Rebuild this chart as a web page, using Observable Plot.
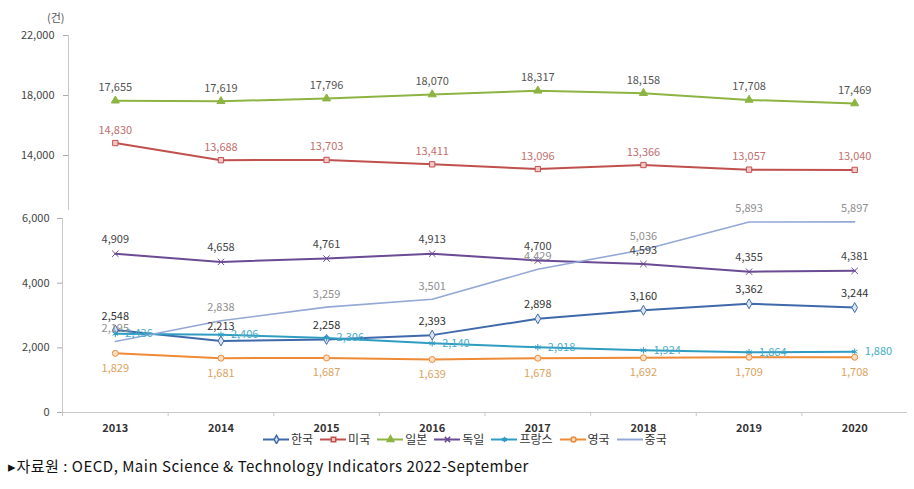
<!DOCTYPE html>
<html><head><meta charset="utf-8">
<script src="https://cdn.jsdelivr.net/npm/d3@7"></script>
<script src="https://cdn.jsdelivr.net/npm/@observablehq/plot@0.6"></script>
<style>
body{margin:0;background:#fff;}
#wrap{position:relative;width:914px;height:489px;overflow:hidden;font-family:"Noto Sans CJK KR","Noto Sans",sans-serif;}
#wrap svg.plotsvg{position:absolute;left:0;}
#unit{position:absolute;left:47px;top:9px;font-size:11px;color:#555;}
#legend{position:absolute;top:430px;left:263px;display:flex;gap:7px;font-size:12px;color:#333;align-items:center;white-space:nowrap;}
#legend .it{display:flex;align-items:center;gap:2px;}
#caption{position:absolute;left:8px;top:455px;font-size:15px;letter-spacing:0.5px;color:#111;white-space:nowrap;}
</style></head><body><div id="wrap"><div id="unit">(건)</div><div id="legend"></div><div id="caption"></div></div>
<script>
// ---- data ----
const years = [2013, 2014, 2015, 2016, 2017, 2018, 2019, 2020];
const seriesNames = ["한국", "미국", "일본", "독일", "프랑스", "영국", "중국"];
const korea   = [2548, 2213, 2258, 2393, 2898, 3160, 3362, 3244];
const usa     = [14830, 13688, 13703, 13411, 13096, 13366, 13057, 13040];
const japan   = [17655, 17619, 17796, 18070, 18317, 18158, 17708, 17469];
const germany = [4909, 4658, 4761, 4913, 4700, 4593, 4355, 4381];
const france  = [2436, 2406, 2306, 2140, 2018, 1924, 1864, 1880];
const uk      = [1829, 1681, 1687, 1639, 1678, 1692, 1709, 1708];
const china   = [2195, 2838, 3259, 3501, 4429, 5036, 5893, 5897];
const upperTicks = [14000, 18000, 22000];
const lowerTicks = [0, 2000, 4000, 6000];
const unitLabel = "(건)";
const captionText = "▸자료원 : OECD, Main Science & Technology Indicators 2022-September";

// ---- styles ----
const seriesValues = [korea, usa, japan, germany, france, uk, china];
const panelOf     = ["lower", "upper", "upper", "lower", "lower", "lower", "lower"];
const lineColors  = ["#3f69aa", "#c0504d", "#8db443", "#6a4b94", "#2f9dc2", "#ef8a36", "#94a8d6"];
const markFill    = ["#dbe5f3", "#f2c9c8", "#8db443", "none", "none", "#fbe0c8", "none"];
const markSymbol  = ["diamond", "square", "triangle", "times", "asterisk", "circle", null];
const labelColors = ["#333333", "#c0706e", "#555555", "#444444", "#45acc8", "#dba35e", "#8f8f8f"];
const labelDx     = [0, 0, 0, 0, 10, 0, 0];
const labelDy     = [-14, -13, -13, -14, 0, 15, -13];
const labelAnchor = ["middle", "middle", "middle", "middle", "start", "middle", "middle"];

const fmt = d3.format(",");
const fontFamily = '"Noto Sans CJK KR", "Noto Sans", sans-serif';

const series = seriesNames.map((name, i) => ({
  name, i,
  rows: years.map((year, j) => ({year, value: seriesValues[i][j], name}))
}));

function seriesMarks(panel) {
  const marks = [];
  for (const s of series.filter(s => panelOf[s.i] === panel)) {
    marks.push(Plot.line(s.rows, {x: "year", y: "value", stroke: lineColors[s.i], strokeWidth: s.name === "중국" ? 1.6 : 2}));
    if (markSymbol[s.i]) {
      marks.push(Plot.dot(s.rows, {x: "year", y: "value", symbol: markSymbol[s.i], r: 3, stroke: lineColors[s.i], fill: markFill[s.i], strokeWidth: 1}));
    }
  }
  for (const s of series.filter(s => panelOf[s.i] === panel)) {
    marks.push(Plot.text(s.rows, {x: "year", y: "value", text: d => fmt(d.value), dx: labelDx[s.i], dy: labelDy[s.i],
      textAnchor: labelAnchor[s.i], fill: labelColors[s.i], fontSize: 11}));
  }
  return marks;
}

const xDomain = [years[0] - 0.5, years[years.length - 1] + 0.5];

const upper = Plot.plot({
  width: 914, height: 215, marginLeft: 68, marginRight: 7, marginTop: 35, marginBottom: 5,
  style: {background: "none", fontFamily, fontSize: "11px", color: "#444", overflow: "visible"},
  x: {domain: xDomain, range: [62, 907], axis: null},
  y: {domain: [10333, 22000], axis: null},
  marks: [
    Plot.ruleX([xDomain[0]], {dx: 6, stroke: "#c8c8c8"}),
    Plot.axisY({ticks: upperTicks, tickFormat: fmt, tickSize: 5, tickPadding: 9, stroke: "#aaa", fill: "#444", label: null}),
    ...seriesMarks("upper")
  ]
});
upper.classList.add("plotsvg");
upper.style.top = "0px";

const lower = Plot.plot({
  width: 914, height: 240, marginLeft: 62, marginRight: 7, marginTop: 6, marginBottom: 40,
  style: {background: "none", fontFamily, fontSize: "11px", color: "#444", overflow: "visible"},
  x: {domain: xDomain, range: [62, 907], axis: null},
  y: {domain: [0, 6000], axis: null},
  marks: [
    Plot.ruleX([xDomain[0]], {stroke: "#c8c8c8"}),
    Plot.ruleY([0], {stroke: "#c8c8c8"}),
    Plot.axisY({ticks: lowerTicks, tickFormat: fmt, tickSize: 5, tickPadding: 8, stroke: "#aaa", fill: "#444", label: null}),
    Plot.axisX({ticks: years.slice(1).map(y => y - 0.5).concat([xDomain[0]]), tickSize: 4, tickFormat: () => "", stroke: "#c8c8c8", label: null}),
    Plot.axisX({ticks: years, tickSize: 0, tickPadding: 12, tickFormat: d => String(d), fontWeight: "bold", fill: "#333", label: null}),
    ...seriesMarks("lower")
  ]
});
lower.classList.add("plotsvg");
lower.style.top = "212px";

const wrap = document.getElementById("wrap");
wrap.appendChild(upper);
wrap.appendChild(lower);

document.getElementById("unit").textContent = unitLabel;
document.getElementById("caption").textContent = captionText;

// legend
const legend = document.getElementById("legend");
series.forEach(s => {
  const it = document.createElement("div");
  it.className = "it";
  const sw = Plot.plot({
    width: 26, height: 10, margin: 0,
    x: {domain: [0, 2], axis: null}, y: {domain: [0, 1], axis: null},
    style: {background: "none", display: "inline-block"},
    marks: [
      Plot.ruleY([0.5], {stroke: lineColors[s.i], strokeWidth: 2}),
      ...(markSymbol[s.i] ? [Plot.dot([1], {x: d => d, y: 0.5, symbol: markSymbol[s.i], r: 2.5, stroke: lineColors[s.i], fill: markFill[s.i]})] : [])
    ]
  });
  it.appendChild(sw);
  const t = document.createElement("span");
  t.textContent = s.name;
  it.appendChild(t);
  legend.appendChild(it);
});
</script>
</body></html>
